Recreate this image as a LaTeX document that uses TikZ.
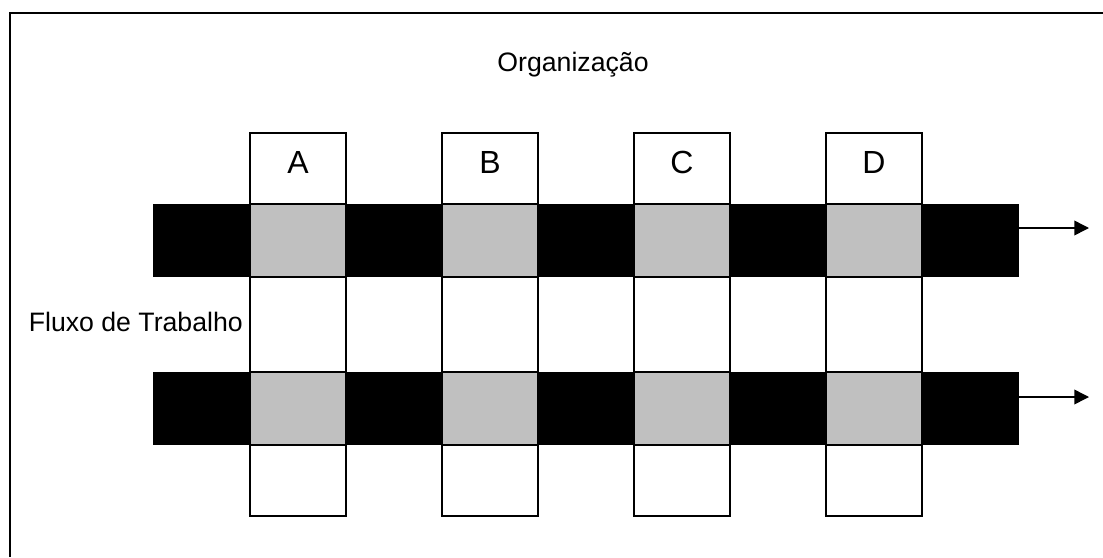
\documentclass[tikz,border=0pt]{standalone}
\usepackage{fontspec}
\setmainfont{Liberation Sans}
\usetikzlibrary{positioning,arrows.meta}
\definecolor{cellgray}{RGB}{192,192,192}

\begin{document}
\begin{tikzpicture}[x=0.75pt,y=-0.75pt,
  column/.style={rectangle, draw, line width=0.9pt, fill=white, minimum width=72pt, minimum height=287.25pt, inner sep=0pt},
  bar/.style={rectangle, fill=black, minimum width=649.5pt, minimum height=54.75pt, inner sep=0pt},
  cell/.style={rectangle, draw, line width=0.9pt, fill=cellgray, minimum width=72pt, minimum height=54.75pt, inner sep=0pt},
  letter/.style={font=\fontsize{24}{28}\selectfont, inner sep=0pt},
  caption/.style={font=\fontsize{20}{24}\selectfont, inner sep=0pt},
  flow/.style={line width=1.1pt, -{Triangle[length=11pt, width=11pt]}}
]
\useasboundingbox (0,0) rectangle (1103,557);
% outer frame (only top and left edges show)
\draw[line width=2.2pt] (10,557) -- (10,13) -- (1103,13);
\node[caption, anchor=base] (org) at (573,71) {Organização};

% units A--D
\node[column] (colA) at (298,324.5) {};
\node[column] (colB) at (490,324.5) {};
\node[column] (colC) at (682,324.5) {};
\node[column] (colD) at (874,324.5) {};
\node[letter, anchor=base] (lblA) at (298,173) {A};
\node[letter, anchor=base] (lblB) at (490,173) {B};
\node[letter, anchor=base] (lblC) at (682,173) {C};
\node[letter, anchor=base] (lblD) at (874,173) {D};

% work flows
\node[bar] (bar1) at (586,240.5) {};
\node[bar] (bar2) at (586,408.5) {};
\node[cell] (c1A) at (colA |- bar1) {};
\node[cell] (c1B) at (colB |- bar1) {};
\node[cell] (c1C) at (colC |- bar1) {};
\node[cell] (c1D) at (colD |- bar1) {};
\node[cell] (c2A) at (colA |- bar2) {};
\node[cell] (c2B) at (colB |- bar2) {};
\node[cell] (c2C) at (colC |- bar2) {};
\node[cell] (c2D) at (colD |- bar2) {};
\coordinate (out1) at (1089,228);
\coordinate (out2) at (1089,397);
\draw[flow] (bar1.east |- out1) -- (out1);
\draw[flow] (bar2.east |- out2) -- (out2);
\node[caption, anchor=base east] (fluxo) at (243,331.5) {Fluxo de Trabalho};
\end{tikzpicture}
\end{document}
